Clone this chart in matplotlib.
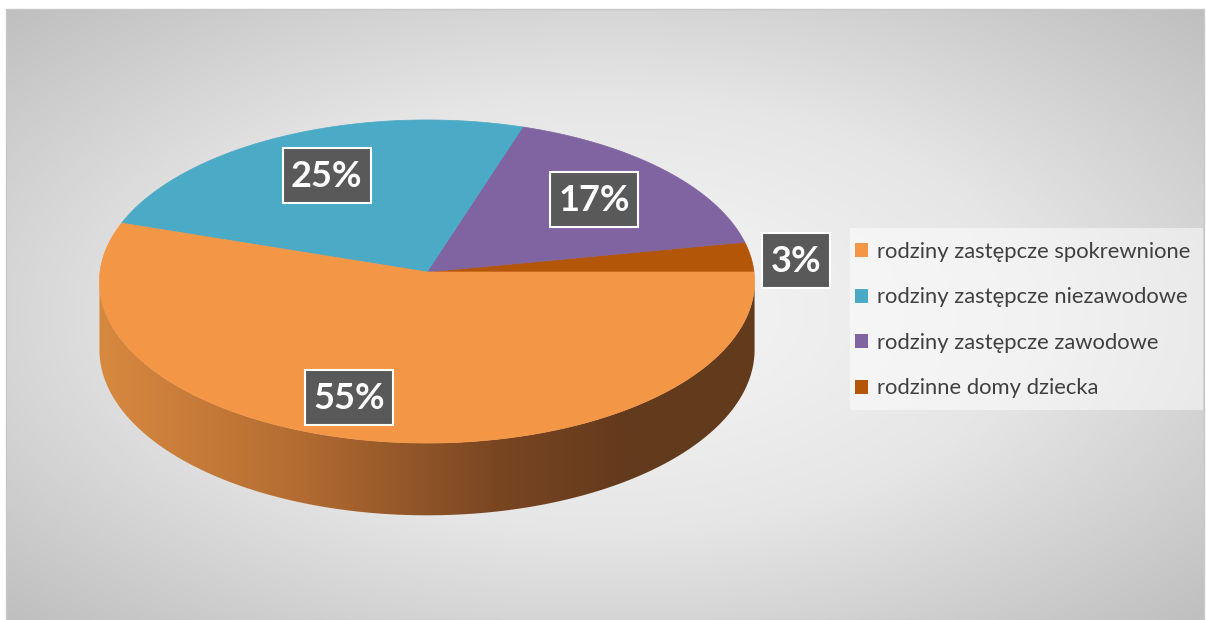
import numpy as np
import matplotlib.pyplot as plt
from matplotlib.patches import Polygon, Rectangle, Patch
from matplotlib.colors import LinearSegmentedColormap

# data
labels = ['rodziny zastępcze spokrewnione', 'rodziny zastępcze niezawodowe',
          'rodziny zastępcze zawodowe', 'rodzinne domy dziecka']
shares = [55, 25, 17, 3]
colors = ['#F39646', '#4BAAC5', '#8064A2', '#B45608']
# drawing order around the pie, counter-clockwise from 3 o'clock
order = [3, 2, 1, 0]

W, H = 1206, 620
fig = plt.figure(figsize=(W / 100, H / 100), dpi=100)
ax = fig.add_axes([0, 0, 1, 1])
ax.set_xlim(0, W)
ax.set_ylim(H, 0)
ax.axis('off')

# background: chart area with radial gradient
x0, y0, x1, y1 = 6, 9, 1204, 620
gx, gy = np.meshgrid(np.linspace(-1, 1, 400), np.linspace(-1, 1, 220))
t = np.sqrt(gx ** 2 + gy ** 2) / np.sqrt(2)
bg = LinearSegmentedColormap.from_list('bg', ['#F7F7F7', '#E6E6E6', '#BFBFBF'])
ax.imshow(bg(t), extent=(x0, x1, y1, y0), aspect='auto', zorder=0)
ax.add_patch(Rectangle((x0, y0), x1 - x0, y1 - y0, fill=False,
                       ec='#C8C8C8', lw=1, zorder=1))

# pie geometry (simple perspective)
cx, cy = 427, 272
R, R2 = 327, 161
p = 0.0588
depth = 68


def proj(theta, r=1.0):
    th = np.radians(theta)
    X = r * np.cos(th)
    Yv = -r * np.sin(th)
    s = 1.0 / (1 - p * Yv)
    return cx + R * X * s, cy + R2 * Yv * s, s


# side (front half) with horizontal gradient
th = np.linspace(0, 360, 3601)
sx, sy, ss = proj(th)
front = (th > 90) & (th < 270)
tl = th[front][np.argmin(sx[front])]
tr = th[~front][np.argmax(np.where(th[~front] > 180, sx[~front], -1))]
arc = np.linspace(tl, tr if tr > tl else tr + 360, 400)
ax_, ay_, as_ = proj(arc)
side_pts = np.vstack([np.column_stack([ax_, ay_]),
                      np.column_stack([ax_[::-1], ay_[::-1] + depth * as_[::-1]])])
side = Polygon(side_pts, closed=True, fc='none', ec='none')
ax.add_patch(side)
sidecm = LinearSegmentedColormap.from_list(
    'side', [(0, '#D98A40'), (0.3, '#B56D32'), (0.6, '#7A4622'), (0.8, '#633A1D'), (1, '#623A1C')])
grad = sidecm(np.linspace(0, 1, 300))[None, :, :]
im = ax.imshow(grad, extent=(cx - R - 10, cx + R + 10, cy + R2 + depth + 20, cy - 20),
               aspect='auto', zorder=2)
im.set_clip_path(side)

# top face slices
start = 0.0
mids = {}
for i in order:
    span = shares[i] / sum(shares) * 360
    a = np.linspace(start, start + span, 200)
    px, py, _ = proj(a)
    pts = np.vstack([[cx, cy], np.column_stack([px, py])])
    ax.add_patch(Polygon(pts, closed=True, fc=colors[i], ec=colors[i], lw=0.5, zorder=3))
    mids[i] = start + span / 2
    start += span

# data labels in dark boxes
lab_r = {0: 0.78, 1: 0.7, 2: 0.7, 3: 1.135}
lab_shift = {0: -8, 1: 0, 2: 0, 3: -1.8}
texts = []
for i in order:
    lx, ly, _ = proj(mids[i] + lab_shift[i], lab_r[i])
    txt = ax.text(lx, ly + 1, f'{shares[i]}%', ha='center', va='center', color='white',
                  fontsize=26, fontweight='bold', family='Lato', zorder=6)
    texts.append((txt, lx, ly))

fig.canvas.draw()
rend = fig.canvas.get_renderer()
for txt, lx, ly in texts:
    bb = txt.get_window_extent(rend)
    bw = bb.width + 17
    bh = 55
    ax.add_patch(Rectangle((lx - bw / 2, ly - bh / 2), bw, bh, fc='#595959',
                           ec='white', lw=1.5, zorder=5))

# legend
ax.add_patch(Rectangle((850, 228), 353, 182, fc='white', alpha=0.5, ec='none', zorder=5))
handles = [Patch(fc=c, ec='none') for c in colors]
leg = ax.legend(handles, labels, loc='upper left', bbox_to_anchor=(855 / W, 1 - 242 / H),
                prop={'family': 'Lato', 'size': 15.8}, labelcolor='#404040',
                frameon=False, handlelength=0.6, handleheight=0.6, handletextpad=0.38,
                labelspacing=1.16, borderpad=0.0, borderaxespad=0)
leg.set_zorder(6)

fig.savefig('out.png', dpi=100)
